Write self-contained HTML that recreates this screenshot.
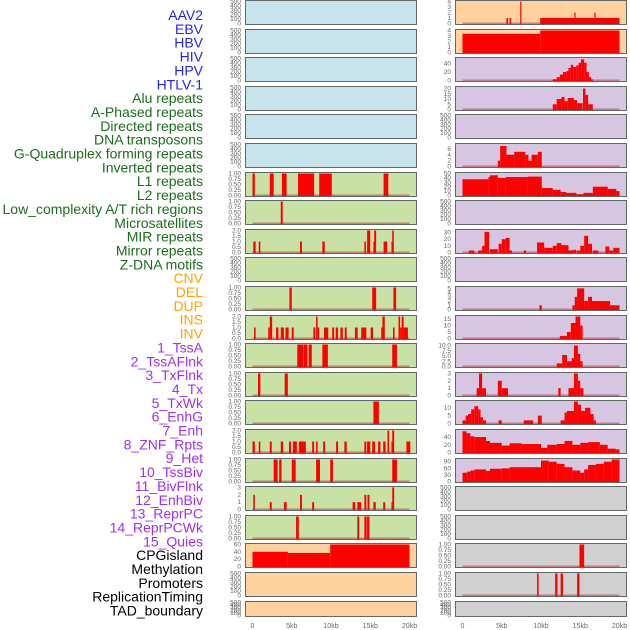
<!DOCTYPE html>
<html><head><meta charset="utf-8"><style>
html,body{margin:0;padding:0;background:#fff;width:630px;height:630px;overflow:hidden}
svg{display:block;font-family:"Liberation Sans",sans-serif}
</style></head><body>
<svg id="chart" width="630" height="630" viewBox="0 0 630 630" xmlns="http://www.w3.org/2000/svg">
<g id="labels"></g>
<g id="panels"></g>
</svg>
<script>
// ---- labels ----
const labelNames = ["AAV2","EBV","HBV","HIV","HPV","HTLV-1","Alu repeats","A-Phased repeats","Directed repeats","DNA transposons","G-Quadruplex forming repeats","Inverted repeats","L1 repeats","L2 repeats","Low_complexity A/T rich regions","Microsatellites","MIR repeats","Mirror repeats","Z-DNA motifs","CNV","DEL","DUP","INS","INV","1_TssA","2_TssAFlnk","3_TxFlnk","4_Tx","5_TxWk","6_EnhG","7_Enh","8_ZNF_Rpts","9_Het","10_TssBiv","11_BivFlnk","12_EnhBiv","13_ReprPC","14_ReprPCWk","15_Quies","CPGisland","Methylation","Promoters","ReplicationTiming","TAD_boundary"];
const labelGroups = [6,13,5,15,5];
const groupColors = ["#2323f0","#1a6e1a","#ffa500","#a02ff0","#000000"];

// ---- x axis ----
const xTickVals = [0,5,10,15,20];
const xTickLabels = ["0","5kb","10kb","15kb","20kb"];

// ---- tick sets ----
const T500 = ["0","100","200","300","400","500"];
const T1 = ["0.00","0.25","0.50","0.75","1.00"];
const T2 = ["0.0","0.5","1.0","1.5","2.0"];

// ---- left column ----
const leftBg = ["b","b","b","b","b","b","g","g","g","g","g","g","g","g","g","g","g","g","g","o","o","o"];
const leftMax = [500,500,500,500,500,500,1,1,2,500,1,2,1,1,1,2,1,3,1,60,500,500];
const leftTicks = [T500,T500,T500,T500,T500,T500,T1,T1,T2,T500,T1,T2,T1,T1,T1,T2,T1,["0","1","2","3"],T1,["0","20","40","60"],T500,T500];
const leftSegs = [
[],[],[],[],[],[],
[[0,0.3,1],[2.2,2.7,1],[3.75,4.35,1],[5.8,7.85,1],[8.5,10.1,1],[16.7,17.3,1]],
[[3.6,3.85,1]],
[[0.1,0.4,1],[0.8,1.0,1],[6.05,6.3,1],[8.9,9.2,1],[14.25,14.45,1],[14.6,15.0,2],[15.4,15.55,1],[15.5,15.75,2],[16.7,17.15,1],[17.7,17.9,1],[17.8,18.0,2]],
[],
[[4.7,5.0,1],[15.25,15.75,1],[17.95,18.3,1]],
[[0.2,0.4,1],[2.0,2.2,1],[2.2,2.5,2],[3.0,3.3,1],[3.6,4.0,1],[4.2,4.6,1],[5.0,5.25,1],[7.75,8.0,1],[8.1,8.3,2],[8.3,8.5,1],[9.1,9.65,1],[10.15,10.4,1],[10.6,10.9,1],[11.2,11.5,1],[11.75,12.0,1],[13.05,13.4,1],[13.85,14.5,1],[15.05,15.35,1],[16.4,16.7,1],[16.55,16.85,2],[17.9,18.1,1],[18.6,18.8,2],[18.8,19.0,1],[19.0,19.25,2],[19.25,19.8,1]],
[[5.7,6.45,1],[6.5,7.0,1],[7.15,7.55,1],[8.9,9.6,1],[17.8,18.4,1]],
[[0.7,1.0,1],[4.1,4.5,1]],
[[15.4,16.1,1]],
[[0,0.3,1],[0.8,1.0,1],[2.2,2.45,1],[3.6,3.9,1],[4.65,4.9,1],[5.15,5.65,1],[5.9,6.8,1],[7.6,7.85,1],[8.1,8.3,1],[9.0,9.25,1],[10.65,10.9,1],[11.7,12.0,1],[14.25,14.5,1],[14.6,15.0,1],[15.25,15.6,1],[16.0,16.3,1],[16.65,16.95,1],[17.2,17.4,2],[17.7,18.0,1],[17.8,18.05,2],[19.6,20.1,1]],
[[2.7,3.2,1],[3.4,3.7,1],[5.0,5.5,1],[8.1,8.6,1],[9.9,10.25,1],[17.8,18.4,1]],
[[0.1,0.3,2],[2.2,2.45,1],[4.0,4.35,1],[6.05,6.3,2],[7.6,7.85,1],[12.75,13.1,1],[13.35,13.85,1],[14.25,14.5,2],[14.65,14.9,2],[15.4,15.7,1],[16.65,16.9,1],[17.7,17.9,1],[17.8,18.05,3]],
[[5.55,5.9,1],[13.35,13.6,1],[14.25,14.55,1],[14.6,14.9,1]],
[[0,4.5,40],[4.5,9.9,37],[9.9,20,60]],
[],[]
];

// ---- right column ----
const rightBg = ["o","o","p","p","p","p","p","p","p","p","p","p","p","p","p","p","p","y","y","y","y","y"];
const rightMax = [4,4,52,21,500,7.5,50,500,33,500,5.2,17,10.5,3,14,57,100,500,500,1,1,500];
const rightTicks = [["0","1","2","3","4"],["0","1","2","3","4"],["0","20","40"],["0","5","10","15","20"],T500,["0","2","4","6"],["0","10","20","30","40","50"],T500,["0","10","20","30"],T500,["0","1","2","3","4","5"],["0","5","10","15"],["0.0","2.5","5.0","7.5","10.0"],["0","1","2","3"],["0","5","10"],["0","20","40"],["0","30","60","90"],T500,T500,T1,T1,T500];
const rightSegs = [
[[5.6,5.8,1],[6.0,6.2,1],[7.35,7.5,4],[9.9,20,1],[14.25,14.4,2],[16.8,16.95,2]],
[[0,9.9,3.4],[9.9,20,4]],
[[11.5,12.0,3],[12.0,12.4,8],[12.4,12.8,14],[12.8,13.2,20],[13.2,13.5,22],[13.5,13.8,30],[13.8,14.1,37],[14.1,14.5,32],[14.5,14.8,36],[14.8,15.1,42],[15.1,15.5,50],[15.5,15.8,42],[15.8,16.1,20],[16.1,16.4,8],[16.4,16.6,3]],
[[11.5,12.0,5],[12.0,12.6,10],[12.6,13.0,12],[13.0,13.4,8],[13.4,14.2,11],[14.2,14.6,9],[14.6,15.3,6],[15.35,15.65,20],[15.65,16.0,14],[16.0,16.6,5]],
[],
[[4.5,4.8,2],[4.8,5.6,7],[5.6,6.6,4],[6.6,8.0,5],[8.0,8.4,4],[8.4,8.8,2],[8.8,9.6,4],[9.6,10.1,5]],
[[0,3.3,37],[3.3,3.5,42],[3.5,4.5,46],[4.5,5.5,40],[5.5,8.3,42],[8.3,10.1,43],[10.1,11.5,17],[11.5,12.5,13],[12.5,13.2,8],[13.2,14.5,6],[14.5,15.4,3],[15.4,16.6,6],[16.6,18.5,20],[18.5,19.6,15],[19.6,20,10]],
[],
[[0.8,1.5,3],[2.0,2.5,3],[2.5,2.8,10],[2.8,3.4,31],[3.5,4.5,5],[4.6,5.0,13],[5.0,5.5,20],[5.5,6.0,22],[6.0,6.3,3],[7.8,8.1,3],[9.5,10.4,15],[10.4,11.5,7],[11.5,12.0,10],[12.0,12.6,14],[12.6,13.5,11],[13.5,14.0,3],[14.0,14.5,4],[14.6,15.0,3],[15.0,15.5,10],[15.5,16.0,25],[16.0,16.5,13],[16.6,17.3,3],[18.2,18.7,9],[18.7,19.2,3],[19.2,20,7]],
[],
[[9.8,10.1,1],[14.0,14.3,1],[14.3,14.6,3],[14.6,15.5,5],[15.5,16.0,2],[16.0,16.5,3],[16.5,18.8,2],[18.8,20,1]],
[[12.4,13.3,2],[13.3,13.8,5],[13.8,14.4,12],[14.4,15.0,17],[15.0,15.3,10]],
[[12.0,12.7,1.5],[12.7,13.3,5.5],[13.3,13.9,2.5],[13.9,14.2,4],[14.2,14.7,10],[14.7,15.0,6],[15.0,15.3,2.5]],
[[1.8,2.1,1],[2.1,2.5,3],[2.5,3.0,1],[4.5,5.0,2],[5.0,5.8,1],[12.2,12.5,1],[13.5,14.2,1],[14.2,14.7,3],[14.7,15.0,2],[15.0,15.4,1]],
[[0,0.4,2],[0.4,0.7,5],[0.7,1.1,6],[1.1,1.5,9],[1.5,2.0,11],[2.0,2.3,9],[2.3,2.6,4],[2.6,3.0,2],[4.6,5.0,2],[7.8,9.0,2],[9.6,10.1,5],[12.5,13.0,2],[13.0,13.3,7],[13.3,14.2,8],[14.2,14.7,14],[14.7,15.1,12],[15.1,15.6,8],[15.6,16.3,10],[16.3,16.7,6],[16.7,17.0,2]],
[[0,0.5,55],[0.5,1,50],[1,1.5,42],[1.5,3,40],[3,3.5,30],[3.5,5,25],[5,6,18],[6,7.5,24],[7.5,10,22],[10,10.8,12],[10.8,12,20],[12,13,22],[13,14,30],[14,15,20],[15,16,25],[16,17.5,27],[17.5,18.5,20],[18.5,19.5,10],[19.5,20,8]],
[[0,0.6,40],[0.6,1,45],[1,1.5,50],[1.5,3,55],[3,3.5,48],[3.5,5,58],[5,6,60],[6,10,65],[10,11,95],[11,12,90],[12,13,80],[13,14,65],[14,15,50],[15,15.5,40],[15.5,16,55],[16,17,75],[17,18,80],[18,19,90],[19,20,100]],
[],[],
[[14.9,15.5,1]],
[[9.5,9.7,1],[11.8,12.1,1],[12.5,12.8,1],[14.6,14.9,1]],
[]
];

const bgColors = {b:"#c7e3eb",g:"#c8e2a5",o:"#ffd19e",p:"#d6c6e2",y:"#d0d0d0"};
const NS = "http://www.w3.org/2000/svg";
function mk(tag, attrs, parent){const e=document.createElementNS(NS,tag);for(const k in attrs)e.setAttribute(k,attrs[k]);parent.appendChild(e);return e;}

// labels
const lg = document.getElementById('labels');
let gi=0, cnt=0;
labelNames.forEach((name,i)=>{
  while(cnt>=labelGroups[gi]){cnt-=labelGroups[gi];gi++;}
  const t = mk('text',{x:203,y:(15+i*13.85+5).toFixed(1),'text-anchor':'end','font-size':'14',fill:groupColors[gi]},lg);
  
  
  t.textContent=name;
  cnt++;
});

// panels
const pg = document.getElementById('panels');
function drawColumn(col, px0, px1, bgs, maxs, ticks, segs){
  const d0 = px0+7.5, d1 = px1-7.5;
  const xs = kb => d0 + (kb/20)*(d1-d0);
  for(let i=0;i<22;i++){
    const top = i<21 ? Math.round(i*28.6) : 601;
    const h = i<21 ? 25 : 16;
    const g = mk('g',{},pg);
    
    
    const rect = mk('rect',{x:px0+0.5,y:top+0.5,width:px1-px0-1,height:h-1,fill:bgColors[bgs[i]],stroke:'#5f6a66','stroke-width':1},g);
    
    
    const yTop = top+1.5, yBot = top+h-1.5;
    const ys = v => yBot - (v/maxs[i])*(yBot-yTop);
    ticks[i].forEach(lbl=>{
      const v=parseFloat(lbl);
      const t=mk('text',{x:px0-4,y:(ys(v)+2).toFixed(1),'text-anchor':'end','font-size':'6.5',fill:'#666'},g);
      
      
      t.textContent=lbl;
    });
    if(segs[i].length){
      const bl=mk('line',{x1:xs(0),x2:xs(20),y1:yBot-0.3,y2:yBot-0.3,stroke:'rgba(190,40,40,0.55)','stroke-width':1.3},g);
      
      
    }
    segs[i].forEach(s=>{
      const x0=Math.max(xs(s[0]),px0+1), x1=Math.min(xs(s[1]),px1-1);
      const y=ys(Math.min(s[2],maxs[i]));
      const r=mk('rect',{x:x0.toFixed(2),y:y.toFixed(2),width:Math.max(x1-x0,1.2).toFixed(2),height:(yBot-y+0.5).toFixed(2),fill:'#ff0000'},g);
      
      
    });
  }
  xTickVals.forEach((v,k)=>{
    const t=mk('text',{x:xs(v),y:628,'text-anchor':'middle','font-size':'7',fill:'#666'},pg);
    
    
    t.textContent=xTickLabels[k];
  });
}
drawColumn('left',245,417,leftBg,leftMax,leftTicks,leftSegs);
drawColumn('right',455,627,rightBg,rightMax,rightTicks,rightSegs);
</script>
</body></html>
